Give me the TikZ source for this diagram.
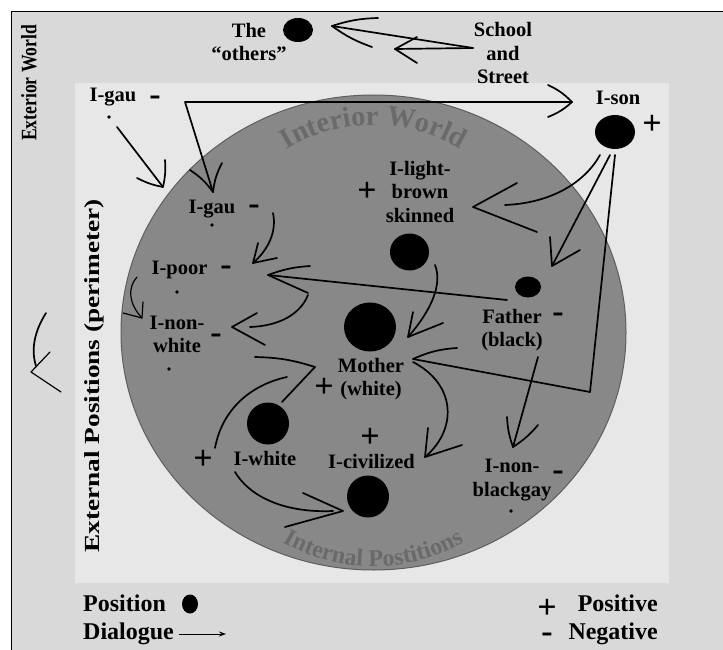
\documentclass[tikz,border=0pt]{standalone}
\usepackage{fontspec}
\usepackage{graphicx}
\setmainfont{Liberation Serif}
\usetikzlibrary{shapes.geometric,decorations.text,arrows.meta}
\definecolor{outerbg}{HTML}{D9D9D9}
\definecolor{innerbg}{HTML}{E7E7E7}
\definecolor{circfill}{HTML}{888888}
\definecolor{circedge}{HTML}{5E5E5E}
\definecolor{ctext}{HTML}{6A6A6A}
\begin{document}
\begin{tikzpicture}[x=1pt,y=-1pt,
  brush/.style={line width=1.7pt,line cap=round,line join=round,draw=black},
  dot/.style={ellipse,fill=black,inner sep=0pt,draw=none},
  bullet/.style={circle,fill=black,inner sep=0pt,minimum size=3.6pt},
  lab/.style={font=\fontsize{20.5}{23.5}\selectfont\bfseries,inner sep=0pt,align=center},
  vlab/.style={inner sep=0pt,rotate=90,font=\fontsize{21.5}{24}\selectfont\bfseries},
  sign/.style={font=\fontsize{34}{34}\selectfont\bfseries,inner sep=0pt},
  leg/.style={font=\fontsize{24}{28}\selectfont\bfseries,inner sep=0pt}]
\useasboundingbox (0,0) rectangle (723,650);
\clip (0,0) rectangle (723,650);
\fill[white] (0,0) rectangle (723,650);
\draw[fill=outerbg,line width=1.3pt] (11.5,11.5) rectangle (760,690);
\fill[innerbg] (75,83) rectangle (669,583);
\draw[fill=circfill,draw=circedge,line width=1pt] (373.5,332.5) ellipse [x radius=252.5pt, y radius=237.5pt];

% curved texts
\path[decorate,decoration={text along path,text align=center,text color=ctext,
  text={|\fontsize{28.5}{28.5}\selectfont\bfseries|Interior World}}]
  (267.4,163.6) arc[start angle=130,end angle=50,radius=165pt];
\path[decorate,decoration={text along path,text align=center,text color=ctext,
  text={|\fontsize{24}{24}\selectfont\bfseries|Internal Postitions}}]
  (283.5,542.4) arc[start angle=240,end angle=300,radius=180pt];

% position dots
\node[dot,minimum width=30pt,minimum height=24pt] (others) at (298,30) {};
\node[dot,minimum width=40pt,minimum height=34pt] (son) at (615,132) {};
\node[dot,minimum width=39pt,minimum height=37pt] (light) at (409.5,252) {};
\node[dot,minimum width=26pt,minimum height=21pt] (father) at (528,287) {};
\node[dot,minimum width=52pt,minimum height=49pt] (mother) at (370,327) {};
\node[dot,minimum width=42pt,minimum height=42pt] (white) at (268,423.5) {};
\node[dot,minimum width=42pt,minimum height=42pt] (civil) at (368,496.5) {};
\node[dot,minimum width=16pt,minimum height=19pt] (legdot) at (190,604) {};

% small bullets
\node[bullet] (bGau1) at (109,117) {};
\node[bullet] (bGau2) at (212,225) {};
\node[bullet] (bPoor) at (177,292) {};
\node[bullet] (bNonW) at (169,369) {};
\node[bullet] (bNonB) at (511,511) {};

% labels
\node[lab] (tOthers) at (249,42) {The\\“others”};
\node[lab] (tSchool) at (503,53) {School\\and\\Street};
\node[lab,anchor=base] (tGau1) at (113,101.5) {I-gau};
\node[lab,anchor=base] (tSon) at (618,105) {I-son};
\node[lab,anchor=base] (tGau2) at (212,213) {I-gau};
\node[lab] (tLight) at (420,191.5) {I-light-\\brown\\skinned};
\node[lab] (tFather) at (512,330) {Father\\(black)};
\node[lab,anchor=base] (tPoor) at (179.5,274) {I-poor};
\node[lab] (tNonW) at (177,334.5) {I-non-\\white};
\node[lab] (tMother) at (371,379) {Mother\\(white)};
\node[lab,anchor=base] (tWhite) at (265,465) {I-white};
\node[lab,anchor=base] (tCivil) at (371.5,468) {I-civilized};
\node[lab] (tNonB) at (512,480) {I-non-\\blackgay};

% signs
\node[sign] (sGau1) at (155,101) {-};
\node[sign] (sGau2) at (254,210) {-};
\node[sign] (sPoor) at (226,271) {-};
\node[sign] (sNonW) at (216,339) {-};
\node[sign] (sFather) at (558,318) {-};
\node[sign] (sNonB) at (558,476) {-};
\node[sign] (sSon) at (652,125) {+};
\node[sign] (sLight) at (367,192) {+};
\node[sign] (sMother) at (324,388) {+};
\node[sign] (sWhite) at (203,460) {+};
\node[sign] (sCivil) at (370,438) {+};

% vertical labels
\node[vlab,font=\fontsize{22}{24}\selectfont\bfseries] (ext) at (29,83) {\scalebox{0.8}[1]{Exterior World}};
\node[vlab] (perim) at (94,376) {\scalebox{1.27}[1]{External Positions (perimeter)}};

% legend
\node[leg,anchor=base west] (lPos) at (83,611) {Position};
\node[leg,anchor=base west] (lDia) at (83,639) {Dialogue};
\node[leg,anchor=base east] (lPosv) at (658,611) {Positive};
\node[leg,anchor=base east] (lNeg) at (658,639) {Negative};
\node[sign] (lPlus) at (547,609) {+};
\node[sign] (lMinus) at (547,638) {-};
\coordinate (dS) at (179,634);
\coordinate (dE) at (226,634);
\draw[-{Stealth[length=7pt,width=5pt]},line width=0.9pt] (dS) -- (dE);

% --- brush arrows ---
% school/street -> others
\coordinate (tsA) at (473,48);
\coordinate (tsH1) at (332,26);
\coordinate (tsH2) at (395,49);
\draw[brush] (tsA) -- (tsH1);
\draw[brush] (378,18) to[bend right=8] (tsH1) to[bend right=8] (372,47);
\draw[brush] (tsA) -- (tsH2);
\draw[brush] (417,37) -- (tsH2) -- (417,63);

% I-gau (top) -> I-gau (inner) and -> I-son
\coordinate (gauC) at (185,102);
\coordinate (gauH) at (213,192);
\coordinate (sonH) at (572,102);
\draw[brush] (gauH) -- (gauC) -- (sonH);
\draw[brush] (548,85) to[bend left=10] (sonH) to[bend left=10] (548,117);
\draw[brush] (190,170) to[bend left=10] (gauH) to[bend left=10] (222,163);

% I-gau dot -> perimeter
\coordinate (g1S) at (117,127);
\coordinate (g1H) at (163,187);
\draw[brush] (g1S) -- (g1H);
\draw[brush] (137,178) to[bend right=8] (g1H) to[bend right=8] (165,160);

% inner I-gau -> I-poor
\coordinate (g2S) at (273,213);
\coordinate (g2H) at (253,263);
\draw[brush] (g2S) .. controls (277,232) and (268,250) .. (g2H);
\draw[brush] (277,258) -- (g2H) -- (258,243);

% father -> I-poor
\coordinate (fpS) at (507,300);
\coordinate (fpH) at (268,275);
\draw[brush] (fpS) -- (fpH);
\draw[brush] (310,266) to[bend right=8] (fpH) -- (308,293);

% I-poor -> I-non-white
\coordinate (pwS) at (308,295);
\coordinate (pwH) at (232,327);
\draw[brush] (pwS) .. controls (300,315) and (278,326) .. (250,327);
\draw[brush] (257,313) -- (pwH) -- (265,345);

% small: I-poor dot -> I-non-white
\coordinate (ppS) at (137,277);
\coordinate (ppH) at (142,318);
\draw[brush,line width=1.2pt] (ppS) .. controls (127,288) and (129,304) .. (ppH);
\draw[brush,line width=1.2pt] (123,313) -- (ppH) -- (143,302);

% light-brown -> mother
\coordinate (lmS) at (435,265);
\coordinate (lmH) at (408,337);
\draw[brush] (lmS) .. controls (443,285) and (430,312) .. (lmH);
\draw[brush] (413,312) -- (lmH) -- (443,323);

% I-son -> light-brown
\coordinate (slS) at (600,155);
\coordinate (slH) at (473,207);
\draw[brush] (slS) .. controls (585,182) and (552,203) .. (505,205);
\draw[brush] (517,183) -- (slH) -- (537,232);

% I-son -> father
\coordinate (sfS) at (610,155);
\coordinate (sfH) at (552,266);
\draw[brush] (sfS) -- (sfH);
\draw[brush] (550,237) -- (sfH) -- (580,250);

% I-son -> corner -> mother
\coordinate (smS) at (615,155);
\coordinate (smC) at (590,392);
\coordinate (smH) at (413,359);
\draw[brush] (smS) -- (smC) -- (smH);
\draw[brush] (smH) to[bend left=10] (457,348);

% mother -> I-civilized
\coordinate (mcS) at (413,362);
\coordinate (mcH) at (425,457);
\draw[brush] (mcS) .. controls (457,385) and (457,430) .. (mcH);
\draw[brush] (428,428) -- (mcH) -- (462,445);

% father -> I-non-blackgay
\coordinate (fbS) at (538,357);
\coordinate (fbH) at (513,447);
\draw[brush] (fbS) -- (fbH);
\draw[brush] (507,417) to[bend right=8] (fbH) to[bend right=8] (538,425);

% I-white -> mother
\coordinate (wmS) at (215,448);
\coordinate (wmH) at (315,367);
\draw[brush] (wmS) .. controls (222,410) and (250,385) .. (287,377);
\draw[brush] (255,357) to[bend left=8] (wmH) -- (282,402);

% I-white -> I-civilized
\coordinate (wcS) at (235,472);
\coordinate (wcH) at (343,511);
\draw[brush] (wcS) .. controls (252,500) and (290,513) .. (333,511);
\draw[brush] (303,493) -- (wcH) -- (285,527);

% exterior arrow
\coordinate (exS) at (46,313);
\coordinate (exH) at (31,372);
\draw[brush] (exS) .. controls (34,332) and (31,350) .. (36,366);
\draw[brush,line width=1.2pt] (50,352) -- (exH) -- (61,392);
\end{tikzpicture}
\end{document}
